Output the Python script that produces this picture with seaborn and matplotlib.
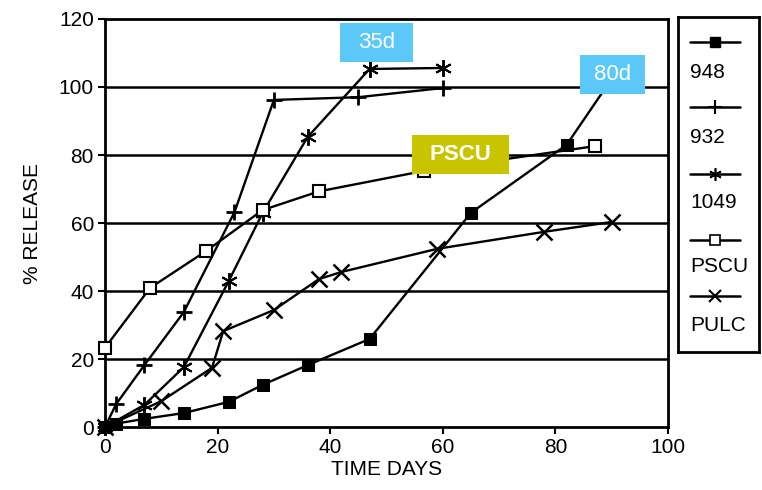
import matplotlib
matplotlib.use("Agg")
import matplotlib.pyplot as plt
import seaborn as sns
import pandas as pd
from matplotlib.patches import Rectangle

# ---- data ----
days_948 = [0, 2, 7, 14, 22, 28, 36, 47, 65, 82, 89]
rel_948 = [0, 1, 2.4, 4.1, 7.4, 12.4, 18.2, 25.9, 63, 83, 100]

days_932 = [0, 2, 7, 14, 23, 30, 45, 60]
rel_932 = [0, 6.8, 18.2, 33.8, 63.2, 96.2, 97, 99.7]

days_1049 = [0, 7, 14, 22, 28, 36, 47, 60]
rel_1049 = [0, 6.5, 17.6, 43, 63, 85.3, 105.3, 105.6]

days_pscu = [0, 8, 18, 28, 38, 56.6, 87]
rel_pscu = [23.3, 40.9, 51.8, 63.8, 69.3, 75.3, 82.6]

days_pulc = [0, 10, 19, 21, 30, 38, 42, 59, 78, 90]
rel_pulc = [0, 7.6, 17.4, 28.2, 34.4, 43.5, 45.6, 52.4, 57.4, 60.3]

series_names = ["948", "932", "1049", "PSCU", "PULC"]
x_ticks = [0, 20, 40, 60, 80, 100]
y_ticks = [0, 20, 40, 60, 80, 100, 120]

# ---- styling ----
sns.set_theme(style="white")
plt.rcParams["font.family"] = ["Liberation Sans", "DejaVu Sans"]

W, H = 762, 490
fig = plt.figure(figsize=(W / 100, H / 100), dpi=100)
L, R, T, B = 105, 668, 19, 427
ax = fig.add_axes([L / W, 1 - B / H, (R - L) / W, (B - T) / H])

styles = {
    "948": dict(marker="s", markersize=8, markerfacecolor="black", markeredgecolor="black"),
    "932": dict(marker="+", markersize=12, markeredgewidth=2, markeredgecolor="black"),
    "1049": dict(marker=(6, 2, 0), markersize=12, markeredgewidth=1.4, markeredgecolor="black"),
    "PSCU": dict(marker="s", markersize=9, markerfacecolor="white", markeredgecolor="black",
                 markeredgewidth=1.5),
    "PULC": dict(marker="x", markersize=11, markeredgewidth=1.8, markeredgecolor="black"),
}
data = {
    "948": (days_948, rel_948),
    "932": (days_932, rel_932),
    "1049": (days_1049, rel_1049),
    "PSCU": (days_pscu, rel_pscu),
    "PULC": (days_pulc, rel_pulc),
}

for y in [20, 40, 60, 80, 100]:
    ax.axhline(y, color="black", lw=1.8, zorder=1)

for name in series_names:
    xs, ys = data[name]
    df = pd.DataFrame({"x": xs, "y": ys})
    sns.lineplot(data=df, x="x", y="y", ax=ax, color="black", lw=1.7, sort=False,
                 zorder=3, clip_on=False, **styles[name])

ax.set_xlim(0, 100)
ax.set_ylim(0, 120)
ax.set_xticks(x_ticks)
ax.set_yticks(y_ticks)
ax.tick_params(axis="both", labelsize=15, direction="out", length=5, width=1.5,
               color="black", labelcolor="black", bottom=True, left=True, pad=3)
for s in ax.spines.values():
    s.set_color("black")
    s.set_linewidth(2)
ax.set_xlabel("TIME DAYS", fontsize=15, color="black", labelpad=2)
ax.set_ylabel("% RELEASE", fontsize=15, color="black", labelpad=12)
ax.grid(False)

# ---- annotation boxes ----
def box(x0, x1, y0, y1, color, text, bold=False):
    ax.add_patch(Rectangle((x0, y0), x1 - x0, y1 - y0, facecolor=color, edgecolor="none",
                           zorder=10, clip_on=False))
    ax.text((x0 + x1) / 2, (y0 + y1) / 2, text, color="white", fontsize=16,
            fontweight="bold" if bold else "normal", ha="center", va="center",
            zorder=11, clip_on=False)

box(41.7, 54.7, 107.4, 118.8, "#5BC8F8", "35d")
box(84.4, 95.9, 97.9, 109.4, "#5BC8F8", "80d")
box(54.5, 71.8, 74.4, 85.9, "#C8C400", "PSCU", bold=True)

# ---- legend panel (handles above labels) ----
lax = fig.add_axes([678 / W, 1 - 352 / H, (759 - 678) / W, (352 - 17) / H])
lax.set_xlim(678, 759)
lax.set_ylim(352, 17)
lax.set_xticks([])
lax.set_yticks([])
for s in lax.spines.values():
    s.set_color("black")
    s.set_linewidth(2)
handle_y = [42, 107, 174, 240, 296]
text_y = [72, 137, 202, 266, 325]
leg_styles = {
    "948": dict(marker="s", markersize=7, markerfacecolor="black", markeredgecolor="black"),
    "932": dict(marker="+", markersize=10, markeredgewidth=1.5, markeredgecolor="black"),
    "1049": dict(marker=(6, 2, 0), markersize=9, markeredgewidth=1.2, markeredgecolor="black"),
    "PSCU": dict(marker="s", markersize=7, markerfacecolor="white", markeredgecolor="black",
                 markeredgewidth=1.2),
    "PULC": dict(marker="x", markersize=9, markeredgewidth=1.5, markeredgecolor="black"),
}
for name, hy, ty in zip(series_names, handle_y, text_y):
    lax.plot([690, 740], [hy, hy], color="black", lw=1.8)
    lax.plot([715], [hy], color="black", lw=0, **leg_styles[name])
    lax.text(690, ty, name, fontsize=15, color="black", ha="left", va="center")

fig.savefig("out.png", dpi=100)
